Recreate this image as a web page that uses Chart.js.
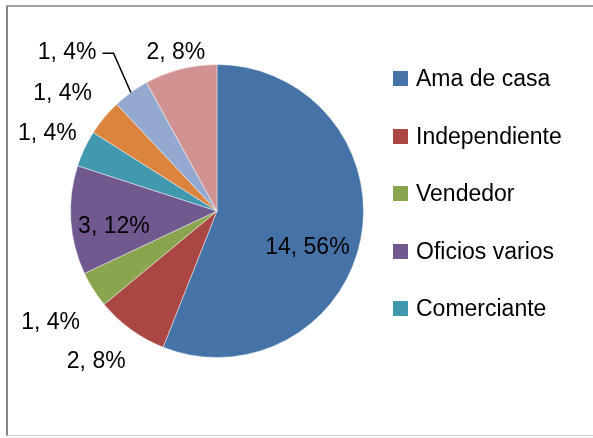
<!DOCTYPE html>
<html>
<head>
    <meta charset="utf-8">
    <title>Ocupación</title>
    <script src="https://cdn.jsdelivr.net/npm/chart.js"></script>
    <style>
        html, body { margin: 0; padding: 0; background: #fff; }
        .stage {
            position: relative;
            width: 593px;
            height: 438px;
            overflow: hidden;
            font-family: "Liberation Sans", Arial, sans-serif;
        }
        .frame {
            position: absolute;
            left: 6px;
            top: 5px;
            width: 620px;
            height: 428px;
            border-top: 2px solid #a2a2a2;
            border-left: 2px solid #858585;
            border-bottom: 1px solid #d2d2d2;
        }
        #pieChart { position: absolute; left: 0; top: 0; }
        .legend {
            position: absolute;
            left: 393px;
            top: 50px;
            margin: 0;
            padding: 0;
            list-style: none;
        }
        .legend li {
            display: flex;
            align-items: center;
            height: 57.5px;
            font-size: 23px;
            color: #000;
        }
        .legend .box {
            width: 15px;
            height: 15px;
            margin-right: 8px;
            flex: none;
        }
    </style>
</head>
<body>
<div class="stage">
    <div class="frame"></div>
    <canvas id="pieChart" width="593" height="438"></canvas>
    <ul class="legend" id="legend"></ul>
</div>

<script>
// datos
const categorias = ['Ama de casa', 'Independiente', 'Vendedor', 'Oficios varios', 'Comerciante', 'Otro 1', 'Otro 2', 'Otro 3'];
const valores = [14, 2, 1, 3, 1, 1, 1, 2];
const colores = ['#4572A7', '#AA4643', '#89A54E', '#71588F', '#4198AF', '#DB843D', '#93A9CF', '#D19392'];
const itemsLeyenda = 5;

// colocación de etiquetas (fracción del radio y giro en grados)
const radioEtiqueta = [0.66, 1.31, 1.36, 0.71, 1.28, 1.33, 1.50, 1.13];
const giroEtiqueta = [10, 3, -1, -4, 0, -2, -7, 0];
const conGuia = [false, false, false, false, false, false, true, false];

const total = valores.reduce((a, b) => a + b, 0);

const etiquetas = {
    id: 'etiquetas',
    afterDatasetsDraw(chart) {
        const ctx = chart.ctx;
        const meta = chart.getDatasetMeta(0);
        ctx.save();
        ctx.font = '23px "Liberation Sans", Arial, sans-serif';
        ctx.fillStyle = '#000';
        ctx.textAlign = 'center';
        ctx.textBaseline = 'middle';
        meta.data.forEach((arc, i) => {
            const p = arc.getProps(['x', 'y', 'startAngle', 'endAngle', 'outerRadius'], true);
            const mid = (p.startAngle + p.endAngle) / 2;
            const ang = mid + giroEtiqueta[i] * Math.PI / 180;
            const r = p.outerRadius * radioEtiqueta[i];
            const tx = p.x + Math.cos(ang) * r;
            const ty = p.y + Math.sin(ang) * r + 2;
            const texto = valores[i] + ', ' + Math.round(valores[i] / total * 100) + '%';
            ctx.fillText(texto, tx, ty);
            if (conGuia[i]) {
                const w = ctx.measureText(texto).width;
                const sx = tx + w / 2 + 6;
                ctx.beginPath();
                ctx.strokeStyle = '#000';
                ctx.lineWidth = 1.5;
                ctx.moveTo(sx, ty + 1);
                ctx.lineTo(sx + 11, ty + 1);
                ctx.lineTo(p.x + Math.cos(mid) * p.outerRadius, p.y + Math.sin(mid) * p.outerRadius);
                ctx.stroke();
            }
        });
        ctx.restore();
    }
};

new Chart(document.getElementById('pieChart'), {
    type: 'pie',
    data: {
        labels: categorias,
        datasets: [{
            data: valores,
            backgroundColor: colores,
            borderColor: 'rgba(255,255,255,0.45)',
            borderWidth: 1
        }]
    },
    options: {
        responsive: false,
        animation: false,
        devicePixelRatio: 1,
        layout: { padding: { left: 70, right: 229, top: 64, bottom: 80 } },
        plugins: {
            legend: { display: false },
            tooltip: { enabled: false }
        }
    },
    plugins: [etiquetas]
});

// leyenda (solo las primeras entradas, como en el original)
const ul = document.getElementById('legend');
categorias.slice(0, itemsLeyenda).forEach((nombre, i) => {
    const li = document.createElement('li');
    li.innerHTML = '<span class="box" style="background:' + colores[i] + '"></span>' + nombre;
    ul.appendChild(li);
});
</script>
</body>
</html>
